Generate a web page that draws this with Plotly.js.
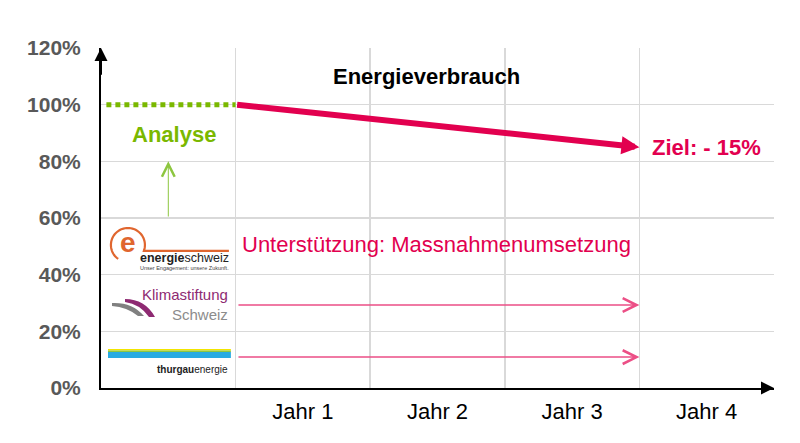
<!DOCTYPE html>
<html>
<head>
<meta charset="utf-8">
<script src="https://cdn.plot.ly/plotly-3.0.1.min.js"></script>
<style>html,body{margin:0;padding:0;background:#fff;}#chart{width:800px;height:443px;}</style>
</head>
<body>
<div id="chart"></div>
<script>
// ---- data ----
const yearLabels = ['Jahr 1', 'Jahr 2', 'Jahr 3', 'Jahr 4'];
const yearPositions = [1.5, 2.5, 3.5, 4.5];
const columnEdges = [1, 2, 3, 4, 5];
const yTicks = [0, 20, 40, 60, 80, 100, 120];
const yTickLabels = ['0%', '20%', '40%', '60%', '80%', '100%', '120%'];

// Analyse phase (baseline 100%)
const analyseX = [0.04, 1];
const analyseY = [100, 100];
// Consumption target path
const targetX = [1, 4];
const targetY = [100, 85];
// Analyse arrow
const analyseArrowX = [0.5, 0.5];
const analyseArrowY = [60, 80];
// Support arrows (Klimastiftung, thurgauenergie)
const supportArrowX = [1.01, 4.0];
const supportArrowY = [29.3, 10.9];

const FONT = 'Arial, "Liberation Sans", sans-serif';
const RED = '#E2004F';
const GREEN = '#7AB800';
const PINK = '#EC4F86';

const traces = [{
  x: analyseX, y: analyseY, type: 'scatter', mode: 'lines',
  line: {color: GREEN, width: 5, dash: '5px,4px'},
  hoverinfo: 'skip', showlegend: false
}];

const ann = [];
// axis arrow heads
ann.push({x: 0, y: 120, ax: 0, ay: 110, xref: 'x', yref: 'y', axref: 'x', ayref: 'y',
  text: '', showarrow: true, arrowhead: 2, arrowsize: 1.3, arrowwidth: 2, arrowcolor: '#000'});
ann.push({x: 5, y: 0, ax: 4.9, ay: 0, xref: 'x', yref: 'y', axref: 'x', ayref: 'y',
  text: '', showarrow: true, arrowhead: 2, arrowsize: 1.3, arrowwidth: 2, arrowcolor: '#000'});
// target arrow
ann.push({x: targetX[1], y: targetY[1], ax: targetX[0], ay: targetY[0],
  xref: 'x', yref: 'y', axref: 'x', ayref: 'y', text: '', showarrow: true,
  arrowhead: 2, arrowsize: 0.6, arrowwidth: 6, arrowcolor: RED});
// analyse arrow
ann.push({x: analyseArrowX[1], y: analyseArrowY[1], ax: analyseArrowX[0], ay: analyseArrowY[0],
  xref: 'x', yref: 'y', axref: 'x', ayref: 'y', text: '', showarrow: true,
  arrowhead: 5, arrowsize: 2.5, arrowwidth: 1, arrowcolor: '#8DC63F'});
// support arrows
supportArrowY.forEach(function (yv) {
  ann.push({x: supportArrowX[1], y: yv, ax: supportArrowX[0], ay: yv,
    xref: 'x', yref: 'y', axref: 'x', ayref: 'y', text: '', showarrow: true,
    arrowhead: 5, arrowsize: 1.8, arrowwidth: 1.5, arrowcolor: PINK});
});
// texts
function txt(x, y, text, opts) {
  ann.push(Object.assign({x: x, y: y, xref: 'x', yref: 'y', text: text, showarrow: false,
    font: {family: FONT, size: 22, color: '#000'}}, opts || {}));
}
txt(2.42, 109.8, '<b>Energieverbrauch</b>');
txt(0.54, 89.3, '<b>Analyse</b>', {font: {family: FONT, size: 22, color: GREEN}});
txt(4.08, 85, '<b>Ziel: - 15%</b>', {xanchor: 'left', font: {family: FONT, size: 22, color: RED}});
txt(1.03, 50.8, 'Unterstützung: Massnahmenumsetzung', {xanchor: 'left', font: {family: FONT, size: 22, color: RED}});

// ---- logos (decoration) ----
const shapes = [];
// energieschweiz
const ORANGE = '#E0662F';
let arc = '';
for (let a = 235; a >= -20; a -= 5) {
  const r = 17, t = a * Math.PI / 180;
  arc += (arc ? 'L' : 'M') + (r * Math.cos(t)).toFixed(2) + ',' + (r * Math.sin(t)).toFixed(2);
}
arc += 'L101,' + (17 * Math.sin(-20 * Math.PI / 180)).toFixed(2);
shapes.push({type: 'path', xref: 'x', yref: 'y', xsizemode: 'pixel', ysizemode: 'pixel',
  xanchor: 0.2, yanchor: 50.47, path: arc, line: {color: ORANGE, width: 2.2}});
txt(0.2, 51.5, '<b>e</b>', {font: {family: FONT, size: 28, color: ORANGE}});
txt(0.275, 45.9, '<b>energie</b>schweiz', {xanchor: 'left', font: {family: FONT, size: 12.5, color: '#222'}});
txt(0.275, 42.3, 'Unser Engagement: unsere Zukunft.', {xanchor: 'left', font: {family: FONT, size: 5.5, color: '#444'}});
// Klimastiftung
shapes.push({type: 'path', xref: 'x', yref: 'y', xsizemode: 'pixel', ysizemode: 'pixel',
  xanchor: 0.0817, yanchor: 29.65, path: 'M0,1Q20,2 32,-12L26,-12Q15,-3 0,-2Z',
  fillcolor: '#808080', line: {width: 0}});
shapes.push({type: 'path', xref: 'x', yref: 'y', xsizemode: 'pixel', ysizemode: 'pixel',
  xanchor: 0.0817, yanchor: 29.65, path: 'M13,5Q33,5 43,-13L37,-13Q28,0 13,2Z',
  fillcolor: '#8E2A72', line: {width: 0}});
txt(0.955, 29.3, 'Klimastiftung<br><span style="color:#8c8c8c">Schweiz</span>',
  {xanchor: 'right', align: 'right', font: {family: FONT, size: 15, color: '#8E2A72'}});
// thurgauenergie
shapes.push({type: 'rect', xref: 'x', yref: 'y', x0: 0.052, x1: 0.965, y0: 13.2, y1: 13.77, fillcolor: '#F2E500', line: {width: 0}});
shapes.push({type: 'rect', xref: 'x', yref: 'y', x0: 0.052, x1: 0.965, y0: 12.7, y1: 13.2, fillcolor: '#8DC63F', line: {width: 0}});
shapes.push({type: 'rect', xref: 'x', yref: 'y', x0: 0.052, x1: 0.965, y0: 10.6, y1: 12.7, fillcolor: '#29ABE2', line: {width: 0}});
txt(0.958, 6.7, '<b>thurgau</b>energie', {xanchor: 'right', font: {family: FONT, size: 10, color: '#222'}});

const layout = {
  width: 800, height: 443,
  margin: {l: 101, r: 26, t: 48, b: 55, pad: 0},
  paper_bgcolor: '#fff', plot_bgcolor: '#fff',
  font: {family: FONT},
  showlegend: false,
  xaxis: {
    range: [0, 5], fixedrange: true,
    tickmode: 'array', tickvals: yearPositions, ticktext: yearLabels,
    ticks: '', showgrid: false, zeroline: false,
    showline: true, linecolor: '#000', linewidth: 2,
    tickfont: {family: FONT, size: 22, color: '#000'},
    ticklabelstandoff: 3,
    minor: {tickmode: 'array', tickvals: columnEdges, showgrid: true, gridcolor: '#d9d9d9', gridwidth: 1.5, ticks: ''}
  },
  yaxis: {
    range: [0, 120], fixedrange: true,
    tickmode: 'array', tickvals: yTicks, ticktext: yTickLabels,
    ticks: '', showgrid: true, gridcolor: '#d9d9d9', gridwidth: 1.5, zeroline: false,
    showline: true, linecolor: '#000', linewidth: 2,
    tickfont: {family: FONT, size: 21, color: '#595959', weight: 'bold'},
    ticklabelstandoff: 14
  },
  annotations: ann,
  shapes: shapes
};

Plotly.newPlot('chart', traces, layout, {staticPlot: true, displayModeBar: false});
</script>
</body>
</html>
